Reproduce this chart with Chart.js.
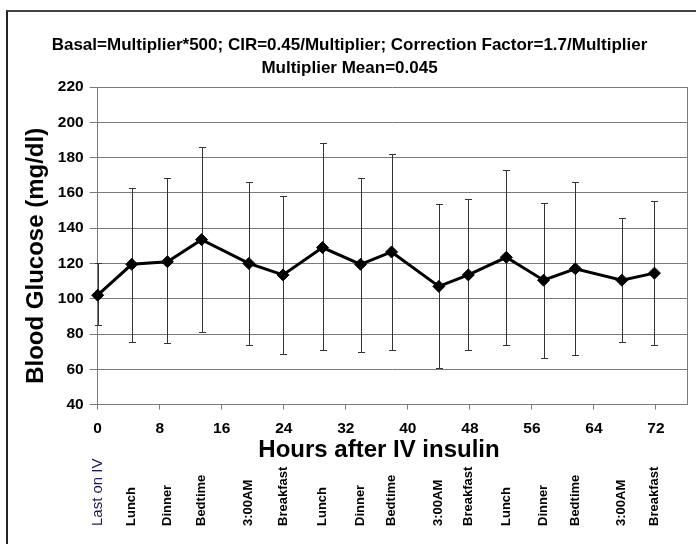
<!DOCTYPE html>
<html>
<head>
<meta charset="utf-8">
<script src="https://cdn.jsdelivr.net/npm/chart.js@4.4.1/dist/chart.umd.min.js"></script>
<style>
  html, body { margin: 0; padding: 0; background: #fff; }
  #wrap { position: relative; width: 696px; height: 544px; overflow: hidden; }
  #frame { position: absolute; left: 6px; top: 10px; width: 720px; height: 560px; border-left: 2px solid #222; border-top: 2px solid #444; }
  #chart { position: absolute; left: 0; top: 0; }
</style>
</head>
<body>
<div id="wrap">
  <div id="frame"></div>
  <canvas id="chart" width="696" height="544"></canvas>
</div>
<script>
// hours after stopping IV insulin, one entry per reading
const hours = [0, 4.4, 9.0, 13.4, 19.5, 23.9, 29.0, 33.9, 37.9, 44.0, 47.8, 52.7, 57.5, 61.6, 67.6, 71.8];
const meanBG = [102, 119.5, 121, 133.5, 120, 113.5, 129, 119.5, 126.5, 107, 113.5, 123.5, 110.5, 117, 110.5, 114.5];
const upperBG = [120, 163, 168.5, 186, 166, 158.5, 188, 168.5, 182, 153.5, 156.5, 173, 154.5, 166, 146, 155.5];
const lowerBG = [85, 75.5, 75, 81, 74, 68.5, 71, 70, 71, 60.5, 71, 74, 66.5, 68, 75.5, 74];
const mealLabels = ['Last on IV', 'Lunch', 'Dinner', 'Bedtime', '3:00AM', 'Breakfast',
    'Lunch', 'Dinner', 'Bedtime', '3:00AM', 'Breakfast',
    'Lunch', 'Dinner', 'Bedtime', '3:00AM', 'Breakfast'];
const titleLines = ['Basal=Multiplier*500; CIR=0.45/Multiplier; Correction Factor=1.7/Multiplier',
    'Multiplier Mean=0.045'];

const FONT = "'Liberation Sans', Arial, sans-serif";
const GRID = '#7a7a7a';

// error bars + right edge of the plot box, under the line
const errorBars = {
    id: 'errorBars',
    beforeDatasetsDraw(chart) {
        const { ctx, chartArea, scales: { x, y } } = chart;
        ctx.save();
        ctx.strokeStyle = GRID;
        ctx.lineWidth = 1;
        ctx.beginPath();
        ctx.moveTo(Math.round(chartArea.right) + 0.5, chartArea.top);
        ctx.lineTo(Math.round(chartArea.right) + 0.5, chartArea.bottom);
        ctx.stroke();

        ctx.strokeStyle = '#333';
        hours.forEach((h, i) => {
            const px = Math.round(x.getPixelForValue(h)) + 0.5;
            const top = Math.round(y.getPixelForValue(upperBG[i])) + 0.5;
            const bot = Math.round(y.getPixelForValue(lowerBG[i])) + 0.5;
            ctx.beginPath();
            ctx.moveTo(px, top);
            ctx.lineTo(px, bot);
            ctx.moveTo(px - 3.5, top);
            ctx.lineTo(px + 3.5, top);
            ctx.moveTo(px - 3.5, bot);
            ctx.lineTo(px + 3.5, bot);
            ctx.stroke();
        });
        ctx.restore();
    }
};

// vertical meal labels under the axis title
const mealRow = {
    id: 'mealRow',
    afterDraw(chart) {
        const { ctx, scales: { x } } = chart;
        ctx.save();
        ctx.textAlign = 'left';
        ctx.textBaseline = 'middle';
        mealLabels.forEach((lab, i) => {
            const px = x.getPixelForValue(hours[i]);
            ctx.save();
            ctx.translate(px, 526);
            ctx.rotate(-Math.PI / 2);
            if (i === 0) {
                ctx.fillStyle = '#1c1c5a';
                ctx.font = '15px ' + FONT;
            } else {
                ctx.fillStyle = '#000';
                ctx.font = 'bold 13px ' + FONT;
            }
            ctx.fillText(lab, 0, 0);
            ctx.restore();
        });
        ctx.restore();
    }
};

new Chart(document.getElementById('chart'), {
    type: 'line',
    data: {
        datasets: [{
            data: hours.map((h, i) => ({ x: h, y: meanBG[i] })),
            borderColor: '#000',
            borderWidth: 3,
            tension: 0,
            pointStyle: 'rectRot',
            pointRadius: 6,
            pointBackgroundColor: '#000',
            pointBorderColor: '#000',
            pointBorderWidth: 1,
            clip: false
        }]
    },
    options: {
        responsive: false,
        animation: false,
        layout: { padding: { left: 12, right: 9, top: 0, bottom: 79 } },
        plugins: {
            legend: { display: false },
            tooltip: { enabled: false },
            title: {
                display: true,
                text: titleLines,
                color: '#000',
                font: { family: FONT, size: 17, weight: 'bold', lineHeight: 1.353 },
                padding: { top: 33.5, bottom: 7.5 }
            }
        },
        scales: {
            x: {
                type: 'linear',
                min: 0,
                max: 76,
                ticks: {
                    stepSize: 8,
                    includeBounds: false,
                    color: '#000',
                    font: { family: FONT, size: 15.5, weight: 'bold' },
                    padding: 10,
                    maxRotation: 0
                },
                grid: { drawOnChartArea: false, tickLength: 5, color: GRID },
                border: { color: GRID },
                title: {
                    display: true,
                    // trailing spaces nudge the centred title left, as in the original
                    text: 'Hours after IV insulin    ',
                    color: '#000',
                    font: { family: FONT, size: 24, weight: 'bold' },
                    padding: { top: -12, bottom: 0 }
                }
            },
            y: {
                min: 40,
                max: 220,
                ticks: {
                    stepSize: 20,
                    color: '#000',
                    font: { family: FONT, size: 15.5, weight: 'bold' },
                    padding: 6
                },
                grid: { color: GRID, tickLength: 8 },
                border: { color: GRID },
                title: {
                    display: true,
                    text: 'Blood Glucose (mg/dl)   ',
                    color: '#000',
                    font: { family: FONT, size: 24, weight: 'bold' },
                    padding: { top: 10, bottom: 1 }
                }
            }
        }
    },
    plugins: [errorBars, mealRow]
});
</script>
</body>
</html>
